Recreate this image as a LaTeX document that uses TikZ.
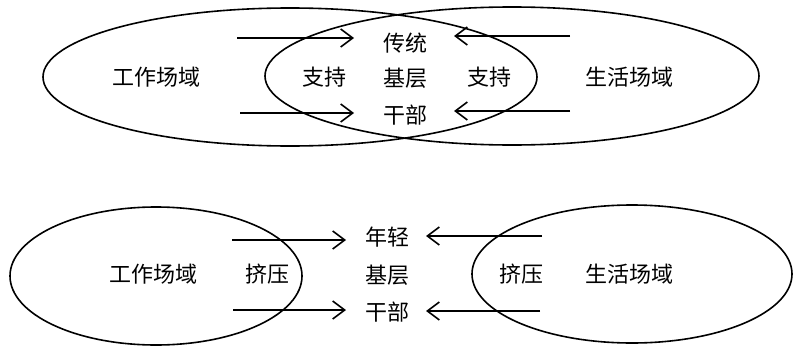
\documentclass[tikz,border=0pt]{standalone}
\usepackage{fontspec}
\newfontfamily\cjk{Noto Sans CJK SC}
\usetikzlibrary{arrows.meta}
\tikzset{
	lbl/.style={font=\cjk\fontsize{22}{25}\selectfont, inner sep=1pt},
	push/.style={-{Straight Barb[length=12pt,width=18pt]}, line width=1.6pt},
	field/.style={line width=1.6pt}
}
\begin{document}
\begin{tikzpicture}[x=1pt, y=-1pt]
		\useasboundingbox (0,0) rectangle (798,348);
		% top: support
		\draw[field] (290,77) ellipse [x radius=247, y radius=69];
		\draw[field] (512,76) ellipse [x radius=247, y radius=69];
		\node[lbl] (work1) at (156,77) {工作场域};
		\node[lbl] (life1) at (629,77) {生活场域};
		\node[lbl] (sup1) at (324,77) {支持};
		\node[lbl] (sup2) at (489,77) {支持};
		\node[lbl] (old1) at (405,43) {传统};
		\node[lbl] (old2) at (405,78) {基层};
		\node[lbl] (old3) at (405,115) {干部};
		% bottom: squeeze
		\draw[field] (156,276) ellipse [x radius=146, y radius=69];
		\draw[field] (632,274) ellipse [x radius=160, y radius=69];
		\node[lbl] (work2) at (153,274) {工作场域};
		\node[lbl] (life2) at (629,274) {生活场域};
		\node[lbl] (sq1) at (267,274) {挤压};
		\node[lbl] (sq2) at (521,274) {挤压};
		\node[lbl] (young1) at (387,237) {年轻};
		\node[lbl] (young2) at (387,275) {基层};
		\node[lbl] (young3) at (387,312) {干部};
		% arrow ends
		\foreach \n/\x/\y in {a1/237/38, a2/240/113, b1/570/36, b2/570/111,
				c1/232/240, c2/233/310, d1/542/236, d2/540/311} {
				\coordinate (\n) at (\x,\y);
			}
		\foreach \n/\x/\y in {ea1/354/38, ea2/354/113, eb1/454/36, eb2/454/111,
				ec1/346/240, ec2/346/310, ed1/426/236, ed2/426/311} {
				\coordinate (\n) at (\x,\y);
			}
		\foreach \s in {a1, a2, b1, b2, c1, c2, d1, d2} {
				\draw[push] (\s) -- (e\s);
			}
	\end{tikzpicture}
\end{document}
